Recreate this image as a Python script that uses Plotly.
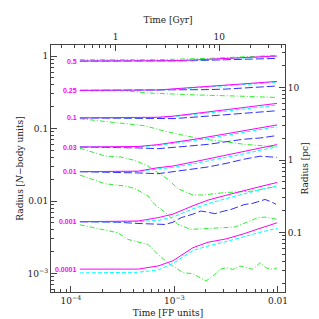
import plotly.graph_objects as go
import math

# ---------------- data ----------------
# conversion factors between axes
GYR_PER_FP = 3700.0      # Gyr per FP time unit (top axis)
PC_PER_NBODY = 27.2      # pc per N-body length unit (right axis)

# Lagrangian mass fractions (labels)
fractions = ["0.5", "0.25", "0.1", "0.03", "0.01", "0.001", "0.0001"]

# common time grid [FP units] for the smooth curves
t_smooth = [1.22e-4, 2.84e-4, 4.44e-4, 6.93e-4, 9.68e-4, 1.51e-3, 2.11e-3,
            3.15e-3, 4.59e-3, 6.70e-3, 9.78e-3]

# magenta solid
mag_0p5 = [0.853, 0.853, 0.853, 0.853, 0.861, 0.881, 0.898, 0.924, 0.947, 0.972, 1.0]
mag_0p25 = [0.336, 0.336, 0.336, 0.340, 0.352, 0.369, 0.386, 0.402, 0.417, 0.432, 0.446]
mag_0p1 = [0.140, 0.140, 0.141, 0.143, 0.148, 0.159, 0.169, 0.182, 0.194, 0.208, 0.222]
mag_0p03 = [0.0556, 0.0556, 0.0565, 0.0600, 0.0637, 0.0705, 0.0765, 0.0848, 0.094, 0.103, 0.112]
mag_0p01 = [0.0254, 0.0254, 0.0258, 0.0288, 0.0304, 0.0345, 0.0380, 0.0428, 0.0480, 0.0540, 0.0600]
mag_0p001 = [0.00518, 0.00518, 0.0053, 0.00589, 0.0066, 0.0086, 0.0103, 0.0120, 0.0139, 0.0158, 0.0180]
mag_0p0001 = [0.00115, 0.00115, 0.00115, 0.00127, 0.0015, 0.00227, 0.0027, 0.0030, 0.0035, 0.0042, 0.0050]

# cyan dashed
cyan_0p5 = [0.853, 0.853, 0.853, 0.853, 0.858, 0.875, 0.89, 0.915, 0.937, 0.96, 0.985]
cyan_0p25 = [0.336, 0.336, 0.336, 0.338, 0.348, 0.363, 0.379, 0.394, 0.408, 0.421, 0.433]
cyan_0p1 = [0.140, 0.140, 0.140, 0.142, 0.146, 0.155, 0.163, 0.174, 0.185, 0.197, 0.210]
cyan_0p03 = [0.0556, 0.0556, 0.056, 0.0585, 0.062, 0.068, 0.073, 0.080, 0.088, 0.097, 0.106]
cyan_0p01 = [0.0254, 0.0254, 0.0256, 0.0278, 0.0290, 0.0325, 0.0355, 0.0396, 0.0445, 0.0500, 0.0560]
cyan_0p001 = [0.00518, 0.00518, 0.0052, 0.0054, 0.0060, 0.0078, 0.0092, 0.0108, 0.0125, 0.0143, 0.0162]
cyan_0p0001 = [0.00102, 0.00102, 0.00104, 0.00112, 0.00138, 0.00208, 0.0024, 0.00275, 0.0032, 0.0037, 0.0042]

# blue long-dashed
blue_0p5 = [0.848, 0.848, 0.848, 0.848, 0.853, 0.861, 0.875, 0.889, 0.903, 0.918, 0.927]
blue_0p25 = [0.336, 0.336, 0.336, 0.336, 0.337, 0.341, 0.344, 0.350, 0.360, 0.372, 0.386]
blue_0p1 = [0.140, 0.139, 0.137, 0.135, 0.137, 0.143, 0.148, 0.155, 0.161, 0.168, 0.176]
blue_0p03 = [0.0556, 0.0552, 0.054, 0.0527, 0.0545, 0.058, 0.0605, 0.0655, 0.071, 0.074, 0.080]
blue_0p01 = [0.0254, 0.0250, 0.0244, 0.0238, 0.0255, 0.0280, 0.0295, 0.0330, 0.0375, 0.0415, 0.0400]
blue_0p001_t = [1.22e-4, 2.84e-4, 4.44e-4, 8.10e-4, 9.68e-4, 1.16e-3, 1.51e-3, 1.80e-3, 2.11e-3,
                2.46e-3, 2.94e-3, 3.52e-3, 4.11e-3, 4.80e-3, 5.73e-3, 6.41e-3, 7.49e-3, 8.56e-3, 9.57e-3]
blue_0p001 = [0.00518, 0.0051, 0.0049, 0.00475, 0.0051, 0.00589, 0.0066, 0.00728, 0.0070,
              0.00668, 0.0072, 0.00766, 0.0083, 0.00898, 0.0093, 0.00977, 0.0105, 0.0098, 0.0090]

# green dash-dot
green_0p5_t = [1.22e-4, 6.93e-4, 2.11e-3, 5.13e-3, 9.78e-3]
green_0p5 = [0.89, 0.89, 0.927, 0.97, 1.02]
green_0p25_t = [1.22e-4, 3.33e-4, 5.55e-4, 9.68e-4, 1.69e-3, 4.11e-3, 9.78e-3]
green_0p25 = [0.332, 0.332, 0.309, 0.298, 0.290, 0.280, 0.268]
green_0p1_t = [1.22e-4, 2.43e-4, 5.19e-4, 8.10e-4, 1.03e-3, 1.69e-3, 3.08e-3, 4.80e-3, 8.56e-3, 9.78e-3]
green_0p1 = [0.1365, 0.124, 0.109, 0.0918, 0.0847, 0.073, 0.0658, 0.0604, 0.0566, 0.0560]
green_0p03_t = [1.22e-4, 2.13e-4, 3.04e-4, 4.15e-4, 5.55e-4, 6.63e-4, 8.66e-4, 1.08e-3, 1.51e-3,
                1.88e-3, 2.94e-3, 5.73e-3, 8.37e-3, 9.78e-3]
green_0p03 = [0.0535, 0.0418, 0.0404, 0.0363, 0.0304, 0.0259, 0.0199, 0.0148, 0.0121,
              0.0121, 0.0130, 0.0137, 0.0153, 0.0156]
green_0p01_t = [1.22e-4, 2.13e-4, 3.33e-4, 4.15e-4, 5.55e-4, 6.48e-4, 8.66e-4, 1.08e-3, 1.44e-3,
                2.46e-3, 3.84e-3, 6.41e-3, 7.49e-3, 9.78e-3]
green_0p01 = [0.0228, 0.0173, 0.0161, 0.0149, 0.0117, 0.0089, 0.00648, 0.00475, 0.00406,
              0.00419, 0.00438, 0.00589, 0.0060, 0.0056]
green_0p001_t = [1.22e-4, 1.95e-4, 2.84e-4, 3.56e-4, 4.15e-4, 5.55e-4, 6.93e-4, 8.66e-4, 1.08e-3,
                 1.21e-3, 1.51e-3, 1.76e-3, 2.01e-3, 2.36e-3, 2.75e-3, 3.15e-3, 3.67e-3, 4.30e-3,
                 4.91e-3, 5.73e-3, 6.70e-3, 7.66e-3, 8.95e-3, 9.78e-3]
green_0p001 = [0.0047, 0.00406, 0.00365, 0.00295, 0.00281, 0.00252, 0.00183, 0.00141, 0.00114,
               0.00103, 0.00099, 0.00087, 0.00079, 0.00092, 0.00114, 0.0012, 0.00114, 0.00127,
               0.0012, 0.00114, 0.00141, 0.0012, 0.00114, 0.0012]

# tick labels
x_tickvals = [1e-4, 1e-3, 1e-2]
x_ticktext = ["10<sup>\u22124</sup>", "10<sup>\u22123</sup>", "0.01"]
y_tickvals = [1e-3, 1e-2, 0.1, 1]
y_ticktext = ["10<sup>\u22123</sup>", "0.01", "0.1", "1"]
top_tickvals = [1, 10]
top_ticktext = ["1", "10"]
right_tickvals = [0.1, 1, 10]
right_ticktext = ["0.1", "1", "10"]

# ---------------- figure ----------------
MAG = "#ff00ff"
CYAN = "#00ffff"
BLUE = "#3030ff"
GREEN = "#33ee33"
AXC = "#444444"
SERIF = "DejaVu Serif, serif"
TXT = "#222222"

fig = go.Figure()

def add(x, y, color, dash, width=1.0):
    fig.add_trace(go.Scatter(x=x, y=y, mode="lines", showlegend=False, hoverinfo="skip",
                             line=dict(color=color, width=width, dash=dash)))

green_series = [(green_0p5_t, green_0p5), (green_0p25_t, green_0p25), (green_0p1_t, green_0p1),
                (green_0p03_t, green_0p03), (green_0p01_t, green_0p01), (green_0p001_t, green_0p001)]
blue_series = [(t_smooth, blue_0p5), (t_smooth, blue_0p25), (t_smooth, blue_0p1),
               (t_smooth, blue_0p03), (t_smooth, blue_0p01), (blue_0p001_t, blue_0p001)]
cyan_series = [cyan_0p5, cyan_0p25, cyan_0p1, cyan_0p03, cyan_0p01, cyan_0p001, cyan_0p0001]
mag_series = [mag_0p5, mag_0p25, mag_0p1, mag_0p03, mag_0p01, mag_0p001, mag_0p0001]

for tx, ry in green_series:
    add(tx, ry, GREEN, "5px,2px,1px,2px")
for tx, ry in blue_series:
    add(tx, ry, BLUE, "8px,3px")
for ry in cyan_series:
    add(t_smooth, ry, CYAN, "4px,2px")
for ry in mag_series:
    add(t_smooth, ry, MAG, "solid")

# the same half-mass curve expressed in physical units, drawn invisibly so the
# secondary (Gyr / pc) axes are rendered
fig.add_trace(go.Scatter(x=[t * GYR_PER_FP for t in t_smooth], y=[r * PC_PER_NBODY for r in mag_0p5],
                         xaxis="x2", yaxis="y2", mode="lines", line=dict(width=0),
                         opacity=0, showlegend=False, hoverinfo="skip"))

for lab, ry in zip(fractions, mag_series):
    fig.add_annotation(x=math.log10(t_smooth[0]), y=math.log10(ry[0]), xref="x", yref="y",
                       text="<b>" + lab + "</b>", showarrow=False, xanchor="right", yanchor="middle",
                       xshift=-1, font=dict(family="Liberation Sans, Arial, sans-serif", size=7, color=MAG))

# ranges (log10)
xr = [-4.193, -1.932]
yr = [-3.255, 0.152]
gshift = math.log10(GYR_PER_FP)
pshift = math.log10(PC_PER_NBODY)

def minor_vals(lo, hi):
    return [k * 10.0 ** e for e in range(lo, hi) for k in range(2, 10)]

axis_common = dict(type="log", showgrid=False, zeroline=False, showline=True, linecolor=AXC,
                   linewidth=1, ticks="inside", ticklen=6, tickcolor=AXC, tickwidth=1,
                   tickfont=dict(family=SERIF, size=9, color=TXT),
                   title_font=dict(family=SERIF, size=9, color=TXT))

fig.update_layout(
    width=319, height=319,
    margin=dict(l=43, r=42, t=37, b=35, autoexpand=False),
    paper_bgcolor="white", plot_bgcolor="white",
    xaxis=dict(**axis_common, range=xr, tickmode="array", tickvals=x_tickvals, ticktext=x_ticktext,
               minor=dict(ticks="inside", ticklen=3, tickcolor=AXC, tickvals=minor_vals(-5, -1)),
               title=dict(text="Time [FP units]", standoff=4)),
    yaxis=dict(**axis_common, range=yr, tickmode="array", tickvals=y_tickvals, ticktext=y_ticktext,
               minor=dict(ticks="inside", ticklen=3, tickcolor=AXC, tickvals=minor_vals(-4, 1)),
               title=dict(text="Radius [<i>N</i>\u2212body units]", standoff=2)),
    xaxis2=dict(**axis_common, overlaying="x", side="top", anchor="y",
                range=[xr[0] + gshift, xr[1] + gshift], tickmode="array",
                tickvals=top_tickvals, ticktext=top_ticktext,
                minor=dict(ticks="inside", ticklen=3, tickcolor=AXC, tickvals=minor_vals(-1, 2)),
                title=dict(text="Time [Gyr]", standoff=7)),
    yaxis2=dict(**axis_common, overlaying="y", side="right", anchor="x",
                range=[yr[0] + pshift, yr[1] + pshift], tickmode="array",
                tickvals=right_tickvals, ticktext=right_ticktext,
                minor=dict(ticks="inside", ticklen=3, tickcolor=AXC, tickvals=minor_vals(-3, 2)),
                title=dict(text="Radius [pc]", standoff=0)),
)

fig.write_html("out.html")
